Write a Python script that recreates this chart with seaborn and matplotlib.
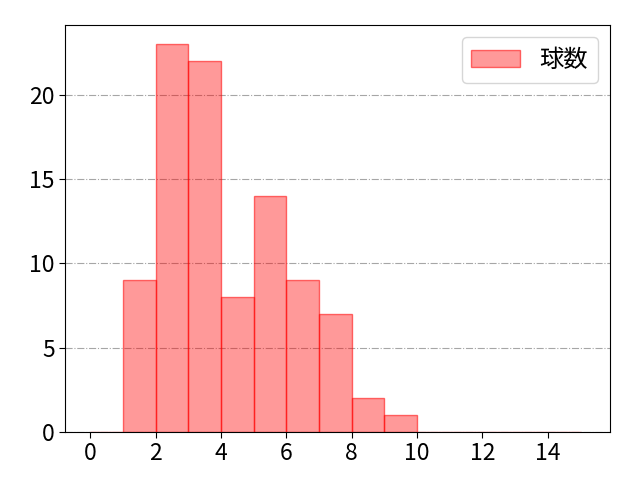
import seaborn as sns
import matplotlib.pyplot as plt

# pitch counts per bin (bin start) and their frequencies
pitches = [1, 2, 3, 4, 5, 6, 7, 8, 9]
counts = [9, 23, 22, 8, 14, 9, 7, 2, 1]
bin_edges = list(range(0, 16))

sns.set_style('white')
plt.rcParams['font.family'] = ['Noto Sans CJK JP', 'DejaVu Sans']
plt.rcParams['text.color'] = 'black'

fig, ax = plt.subplots(figsize=(6.4, 4.8), dpi=100)

sns.histplot(x=[p + 0.5 for p in pitches], weights=counts, bins=bin_edges,
             facecolor=(1, 0, 0, 0.4), edgecolor=(1, 0, 0, 0.55), linewidth=1,
             label='球数', ax=ax)

ax.set_xlim(-0.77, 15.9)
ax.set_ylim(0, 24.15)
ax.set_xticks([0, 2, 4, 6, 8, 10, 12, 14])
ax.set_yticks([0, 5, 10, 15, 20])
ax.set_xlabel('')
ax.set_ylabel('')
ax.tick_params(labelsize=16.5, length=4, bottom=True, left=True,
               colors='black', labelcolor='black')
for s in ax.spines.values():
    s.set_color('black')
ax.grid(axis='y', linestyle='-.', color='gray', alpha=0.7, linewidth=0.8)
ax.set_axisbelow(True)
ax.legend(fontsize=17.5, loc='upper right')

fig.subplots_adjust(left=0.102, right=0.953, top=0.948, bottom=0.1)
plt.savefig('out.png')
